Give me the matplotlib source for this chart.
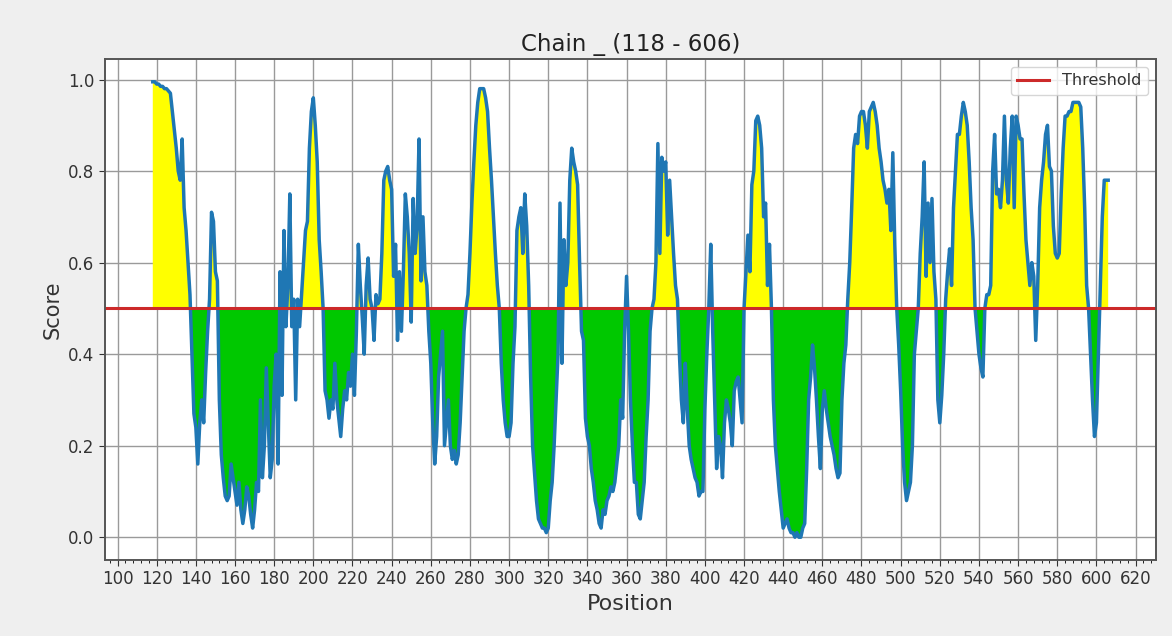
import numpy as np
import matplotlib
matplotlib.use("Agg")
import matplotlib.pyplot as plt
from matplotlib.ticker import MultipleLocator

#%% Datos (uno por residuo)
start_pos = 118
end_pos = 606
threshold = 0.5

score = [
    0.995, 0.995, 0.99, 0.99, 0.985, 0.985, 0.98, 0.98, 0.975, 0.97,  # 118
    0.93, 0.89, 0.85, 0.80, 0.78, 0.87, 0.72, 0.67, 0.60, 0.53,  # 128
    0.40, 0.27, 0.24, 0.16, 0.25, 0.30, 0.25, 0.36, 0.45, 0.52,  # 138
    0.71, 0.69, 0.58, 0.56, 0.30, 0.18, 0.13, 0.09, 0.08, 0.09,  # 148
    0.16, 0.13, 0.10, 0.07, 0.12, 0.06, 0.03, 0.06, 0.11, 0.09,  # 158
    0.05, 0.02, 0.06, 0.12, 0.10, 0.30, 0.13, 0.20, 0.37, 0.25,  # 168
    0.13, 0.17, 0.33, 0.40, 0.16, 0.58, 0.31, 0.67, 0.46, 0.55,  # 178
    0.75, 0.46, 0.52, 0.30, 0.52, 0.46, 0.53, 0.60, 0.67, 0.69,  # 188
    0.85, 0.93, 0.96, 0.90, 0.82, 0.65, 0.58, 0.50, 0.32, 0.30,  # 198
    0.26, 0.30, 0.28, 0.38, 0.30, 0.26, 0.22, 0.28, 0.32, 0.30,  # 208
    0.36, 0.33, 0.40, 0.31, 0.45, 0.64, 0.55, 0.48, 0.40, 0.55,  # 218
    0.61, 0.52, 0.50, 0.43, 0.53, 0.51, 0.52, 0.62, 0.78, 0.80,  # 228
    0.81, 0.78, 0.76, 0.57, 0.64, 0.43, 0.58, 0.45, 0.58, 0.75,  # 238
    0.70, 0.62, 0.47, 0.74, 0.62, 0.68, 0.87, 0.56, 0.70, 0.58,  # 248
    0.55, 0.45, 0.38, 0.25, 0.16, 0.22, 0.35, 0.40, 0.45, 0.20,  # 258
    0.25, 0.30, 0.20, 0.17, 0.19, 0.16, 0.18, 0.25, 0.35, 0.45,  # 268
    0.50, 0.53, 0.62, 0.73, 0.82, 0.90, 0.95, 0.98, 0.98, 0.98,  # 278
    0.96, 0.93, 0.85, 0.78, 0.70, 0.62, 0.55, 0.50, 0.38, 0.30,  # 288
    0.25, 0.22, 0.22, 0.25, 0.38, 0.46, 0.67, 0.70, 0.72, 0.62,  # 298
    0.75, 0.68, 0.55, 0.35, 0.20, 0.14, 0.08, 0.04, 0.03, 0.02,  # 308
    0.02, 0.01, 0.02, 0.08, 0.12, 0.20, 0.30, 0.40, 0.73, 0.38,  # 318
    0.65, 0.55, 0.60, 0.78, 0.85, 0.82, 0.80, 0.77, 0.60, 0.45,  # 328
    0.43, 0.26, 0.22, 0.20, 0.15, 0.12, 0.08, 0.06, 0.03, 0.02,  # 338
    0.06, 0.05, 0.08, 0.09, 0.11, 0.10, 0.12, 0.16, 0.20, 0.30,  # 348
    0.26, 0.45, 0.57, 0.45, 0.30, 0.20, 0.12, 0.12, 0.05, 0.04,  # 358
    0.08, 0.12, 0.22, 0.30, 0.45, 0.50, 0.52, 0.60, 0.86, 0.62,  # 368
    0.83, 0.80, 0.82, 0.66, 0.78, 0.70, 0.62, 0.55, 0.52, 0.40,  # 378
    0.30, 0.25, 0.38, 0.28, 0.20, 0.17, 0.15, 0.13, 0.12, 0.09,  # 388
    0.10, 0.10, 0.28, 0.40, 0.50, 0.64, 0.45, 0.30, 0.15, 0.22,  # 398
    0.20, 0.13, 0.25, 0.30, 0.28, 0.25, 0.20, 0.32, 0.34, 0.35,  # 408
    0.30, 0.25, 0.50, 0.58, 0.66, 0.58, 0.77, 0.80, 0.91, 0.92,  # 418
    0.90, 0.85, 0.70, 0.73, 0.55, 0.64, 0.50, 0.30, 0.20, 0.15,  # 428
    0.10, 0.06, 0.02, 0.03, 0.04, 0.02, 0.01, 0.01, 0.00, 0.01,  # 438
    0.00, 0.00, 0.02, 0.03, 0.15, 0.30, 0.35, 0.42, 0.37, 0.30,  # 448
    0.22, 0.15, 0.28, 0.32, 0.28, 0.25, 0.22, 0.20, 0.18, 0.15,  # 458
    0.13, 0.14, 0.30, 0.38, 0.42, 0.52, 0.60, 0.72, 0.85, 0.88,  # 468
    0.86, 0.92, 0.93, 0.93, 0.90, 0.85, 0.93, 0.94, 0.95, 0.93,  # 478
    0.90, 0.85, 0.82, 0.78, 0.76, 0.73, 0.76, 0.67, 0.84, 0.64,  # 488
    0.50, 0.42, 0.32, 0.20, 0.12, 0.08, 0.10, 0.12, 0.20, 0.40,  # 498
    0.45, 0.50, 0.62, 0.70, 0.82, 0.57, 0.73, 0.60, 0.74, 0.58,  # 508
    0.52, 0.30, 0.25, 0.31, 0.40, 0.52, 0.58, 0.63, 0.55, 0.72,  # 518
    0.80, 0.88, 0.88, 0.92, 0.95, 0.93, 0.90, 0.82, 0.72, 0.65,  # 528
    0.50, 0.45, 0.40, 0.37, 0.35, 0.50, 0.53, 0.53, 0.55, 0.80,  # 538
    0.88, 0.75, 0.76, 0.72, 0.78, 0.92, 0.78, 0.73, 0.85, 0.92,  # 548
    0.72, 0.92, 0.90, 0.87, 0.87, 0.75, 0.65, 0.60, 0.55, 0.60,  # 558
    0.57, 0.43, 0.55, 0.72, 0.78, 0.82, 0.88, 0.90, 0.81, 0.80,  # 568
    0.68, 0.62, 0.61, 0.62, 0.75, 0.85, 0.92, 0.92, 0.93, 0.93,  # 578
    0.95, 0.95, 0.95, 0.95, 0.94, 0.85, 0.72, 0.55, 0.50, 0.40,  # 588
    0.30, 0.22, 0.25, 0.40, 0.55, 0.70, 0.78, 0.78, 0.78,  # 598
]

x_ticks = np.arange(100, 621, 20)
y_ticks = [0.0, 0.2, 0.4, 0.6, 0.8, 1.0]

#%% Estilo
lWidth = 2.5  # grosor de la linea de score
fig_color = "#efefef"
above_color = "#ffff00"
below_color = "#00c800"
line_color = "#1f77b4"
thr_color = "#cc2a2a"

pos = np.arange(start_pos, start_pos + len(score))
score = np.array(score)

#%% Plot
fig = plt.figure(figsize=(11.72, 6.36), dpi=100, facecolor=fig_color)
ax = fig.add_axes([0.0896, 0.1195, 0.8967, 0.7877])

ax.fill_between(pos, score, threshold, where=score >= threshold,
                interpolate=True, color=above_color, linewidth=0)
ax.fill_between(pos, score, threshold, where=score <= threshold,
                interpolate=True, color=below_color, linewidth=0)
ax.plot(pos, score, color=line_color, linewidth=lWidth)
ax.axhline(threshold, color=thr_color, linewidth=2.2, label="Threshold")

ax.set_xticks(x_ticks)
ax.xaxis.set_minor_locator(MultipleLocator(4))
ax.set_yticks(y_ticks)
ax.tick_params(axis="both", labelsize=12, length=4, colors="#333333")
ax.tick_params(axis="x", which="minor", length=2.5)
ax.grid(True, color="#9a9a9a", linewidth=1.0)
ax.set_axisbelow(True)
for s in ax.spines.values():
    s.set_color("#555555")
    s.set_linewidth(1.4)

ax.set_xlabel("Position", fontsize=16, color="#333333")
ax.set_ylabel("Score", fontsize=15, color="#333333")
ax.set_title("Chain _ (%d - %d)" % (start_pos, end_pos), fontsize=16.5,
             color="#222222")
leg = ax.legend(loc="upper right", fontsize=11.5)
for t in leg.get_texts():
    t.set_color("#333333")

fig.savefig("out.png", dpi=100, facecolor=fig_color)
